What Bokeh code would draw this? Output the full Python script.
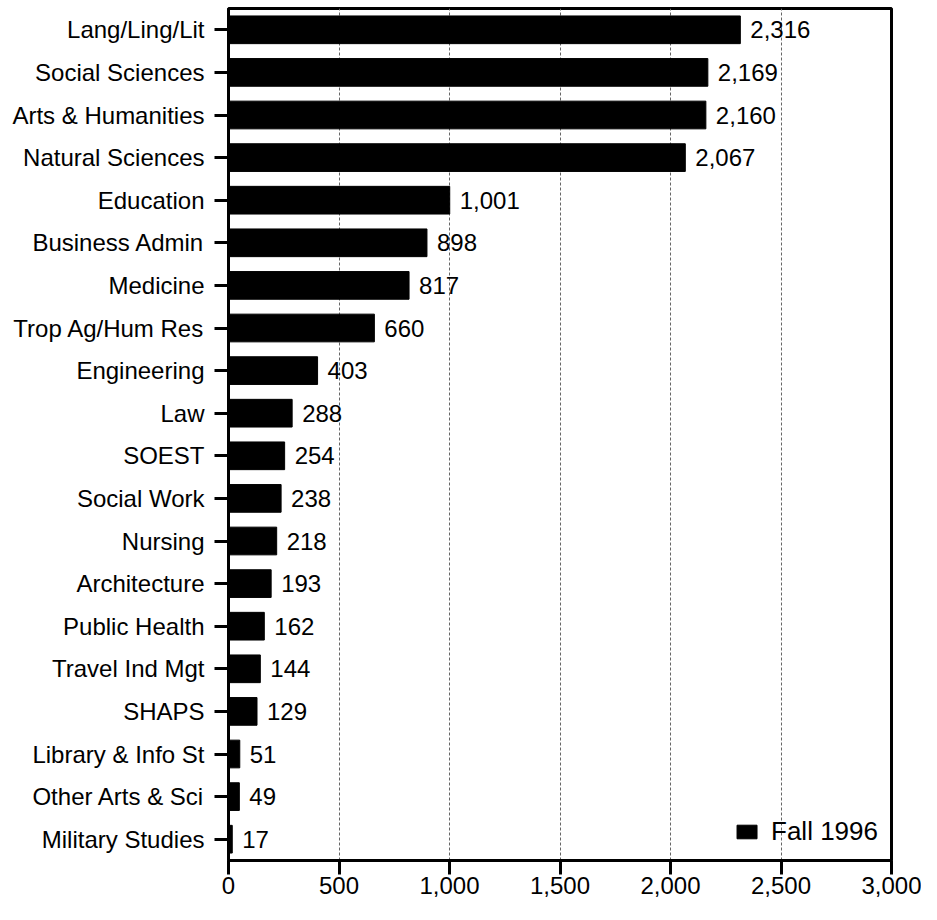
from bokeh.plotting import figure
from bokeh.models import ColumnDataSource, FactorRange, NumeralTickFormatter, SingleIntervalTicker, Range1d
from bokeh.embed import file_html
from bokeh.resources import INLINE

categories = ["Lang/Ling/Lit", "Social Sciences", "Arts & Humanities", "Natural Sciences",
              "Education", "Business Admin", "Medicine", "Trop Ag/Hum Res", "Engineering",
              "Law", "SOEST", "Social Work", "Nursing", "Architecture", "Public Health",
              "Travel Ind Mgt", "SHAPS", "Library & Info St", "Other Arts & Sci", "Military Studies"]
values = [2316, 2169, 2160, 2067, 1001, 898, 817, 660, 403, 288, 254, 238, 218, 193, 162,
          144, 129, 51, 49, 17]
series_name = "Fall 1996"

FONT = "Liberation Sans"
FS = "24px"

labels = [f"{v:,}" for v in values]
src = ColumnDataSource(dict(cat=categories, val=values, lab=labels))

p = figure(width=921, height=904, output_backend="svg", toolbar_location=None,
           y_range=FactorRange(factors=list(reversed(categories))),
           x_range=Range1d(0, 3000),
           min_border_left=228, min_border_right=30, min_border_top=8, min_border_bottom=44)
p.y_range.range_padding = 0

p.hbar(y="cat", right="val", left=0, height=0.65, source=src, color="black",
       legend_label=series_name)
p.text(x="val", y="cat", text="lab", source=src, x_offset=10, text_baseline="middle",
       text_align="left", text_font_size=FS, text_color="black",
       text_font={"value": FONT})

p.xaxis.ticker = SingleIntervalTicker(interval=500)
p.xaxis.formatter = NumeralTickFormatter(format="0,0")
for ax in (p.xaxis[0], p.yaxis[0]):
    ax.axis_line_width = 3
    ax.axis_line_color = "black"
    ax.major_tick_line_width = 3
    ax.major_tick_line_color = "black"
    ax.major_tick_out = 14
    ax.major_tick_in = 0
    ax.minor_tick_line_color = None
    ax.major_label_text_font = FONT
    ax.major_label_text_font_size = FS
    ax.major_label_text_color = "black"
p.yaxis.major_label_standoff = 10
p.xaxis.major_label_standoff = 2

p.ygrid.grid_line_color = None
p.xgrid.grid_line_color = "#666666"
p.xgrid.grid_line_dash = "3 2"
p.xgrid.grid_line_width = 1

p.outline_line_color = "black"
p.outline_line_width = 3
p.outline_line_alpha = 1

lg = p.legend[0]
lg.location = "bottom_right"
lg.margin = 13
lg.padding = 8
lg.background_fill_alpha = 0
lg.border_line_color = None
lg.glyph_width = 25
lg.glyph_height = 17
lg.label_standoff = 12
lg.label_text_font = FONT
lg.label_text_font_size = "26px"
lg.label_text_color = "black"

open("out.html", "w").write(file_html(p, INLINE))
